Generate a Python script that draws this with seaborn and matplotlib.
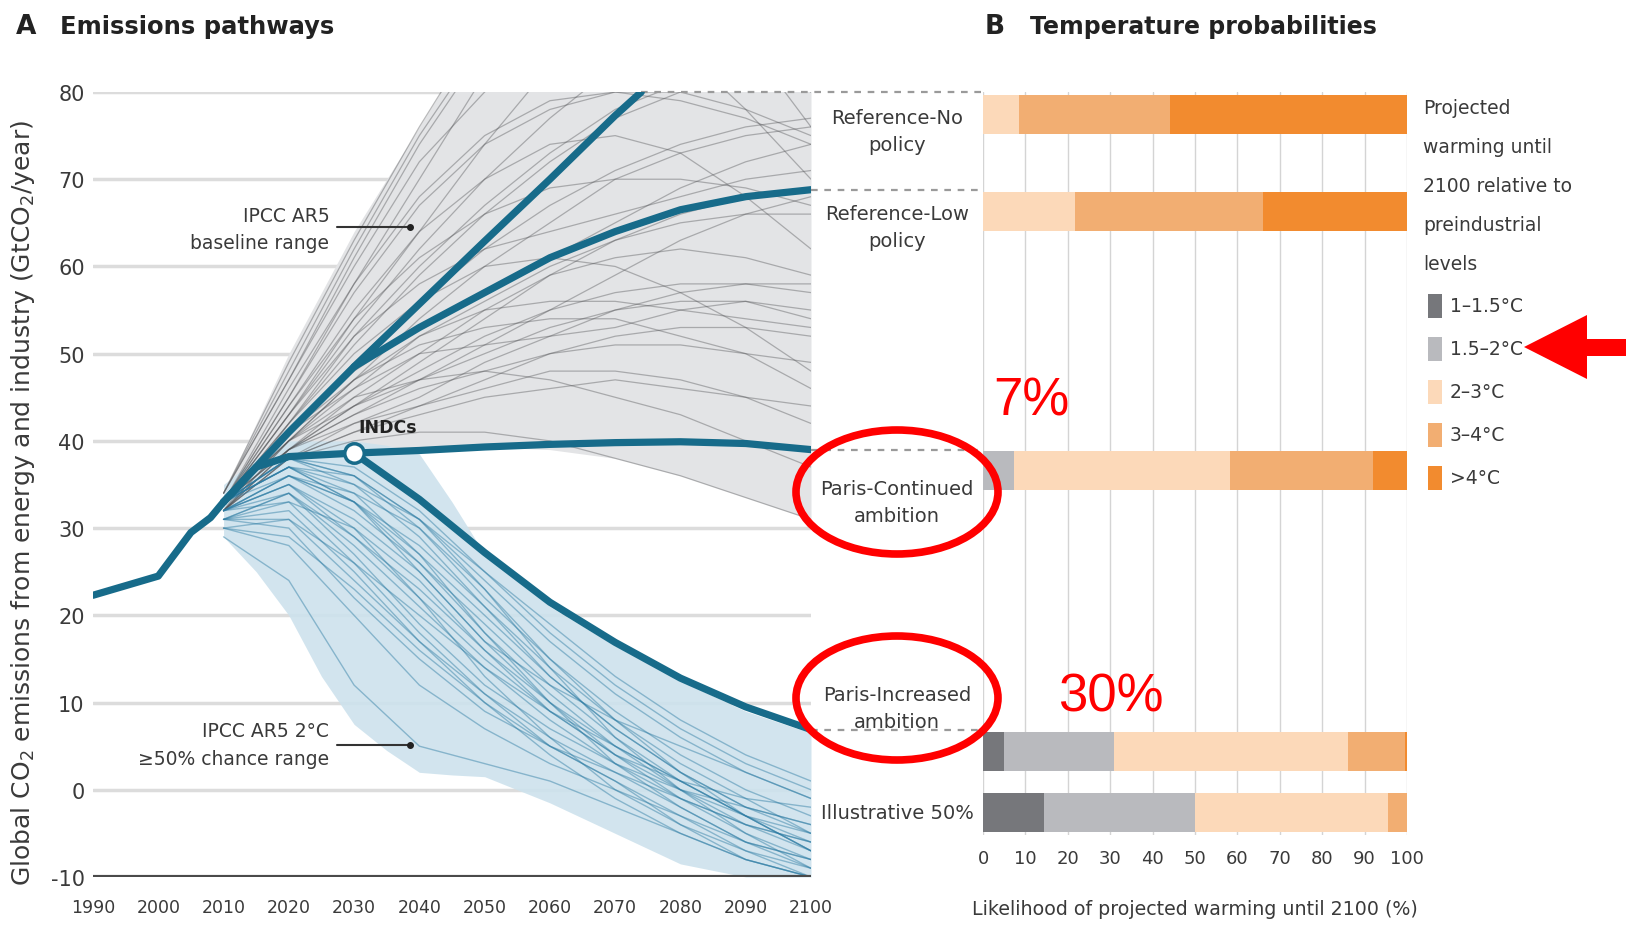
import matplotlib
matplotlib.use("Agg")
import matplotlib.pyplot as plt
from matplotlib.patches import Ellipse, Rectangle, Polygon
import numpy as np
import pandas as pd
import seaborn as sns

# ---- data ----
decades = [2010, 2020, 2030, 2040, 2050, 2060, 2070, 2080, 2090, 2100]

hist_years = [1990, 2000, 2003, 2005, 2008, 2010]
hist_vals = [22.3, 24.5, 27.5, 29.5, 31.2, 33.0]

ref_no_years = [2010, 2020, 2030, 2040, 2050, 2060, 2070, 2074]
ref_no_vals = [33, 41, 48.5, 55.7, 62.9, 70.0, 77.3, 80]

ref_low_years = [2030, 2040, 2050, 2060, 2070, 2080, 2090, 2100]
ref_low_vals = [48.5, 53, 57, 61, 64, 66.5, 68, 68.8]

paris_cont_years = [2010, 2015, 2020, 2030, 2040, 2050, 2060, 2070, 2080, 2090, 2100]
paris_cont_vals = [33, 37, 38.2, 38.6, 38.9, 39.3, 39.6, 39.8, 39.9, 39.7, 39.0]

paris_inc_years = [2030, 2040, 2050, 2060, 2070, 2080, 2090, 2100]
paris_inc_vals = [38.6, 33.3, 27.2, 21.5, 16.9, 12.8, 9.5, 6.9]

baseline_low = [33, 38, 38.5, 39, 39.3, 39, 38, 36, 33.5, 31]
baseline_high = [34, 50, 64, 76, 88, 95, 95, 95, 95, 95]

twodeg_years = [2010, 2015, 2020, 2025, 2030, 2035, 2040, 2045, 2050, 2060, 2070, 2080, 2090, 2100]
twodeg_low = [29, 25, 20, 13, 7.5, 4.5, 2, 1.7, 1.5, -1.5, -5, -8.5, -10, -10]
twodeg_high = [35, 38, 40, 40, 40, 39.5, 38.5, 33, 27, 21, 16.5, 12.5, 9, 6.5]

baseline_runs = [
    [33, 45, 58, 70, 82, 92, 100, 105, 110, 115],
    [33, 43, 54, 64, 74, 83, 90, 95, 98, 100],
    [32, 42, 52, 60, 67, 73, 78, 81, 82, 83],
    [33, 41, 49, 56, 62, 67, 71, 74, 76, 77],
    [32, 40, 46, 52, 56, 60, 63, 65, 66, 66],
    [33, 39, 44, 48, 52, 55, 57, 58, 58, 57],
    [32, 39, 43, 46, 48, 50, 51, 51, 50, 49],
    [33, 38, 41, 43, 45, 46, 47, 46, 45, 44],
    [32, 38, 40, 41, 41, 40, 38, 36, 33.5, 31],
    [33, 40, 45, 47, 48, 47, 45, 43, 40, 37],
    [33, 42, 50, 56, 60, 61, 60, 57, 53, 48],
    [33, 44, 55, 64, 70, 74, 75, 73, 68, 62],
    [34, 47, 60, 72, 80, 86, 88, 85, 78, 70],
    [34, 49, 63, 76, 88, 98, 104, 96, 86, 76],
    [33, 41, 48, 53, 57, 61, 65, 69, 72, 74],
    [32, 39, 45, 50, 55, 59, 61, 62, 61, 59],
    [33, 40, 47, 52, 55, 56, 56, 55, 54, 53],
    [33, 43, 52, 58, 62, 64, 66, 68, 70, 71],
    [33, 39, 42, 45, 49, 52, 55, 57, 58, 58],
    [32, 38, 42, 44, 46, 48, 48, 47, 45, 42],
    [33, 46, 58, 68, 75, 79, 80, 79, 77, 74],
    [33, 41, 46, 50, 51, 52, 53, 55, 56, 55],
    [34, 48, 62, 75, 86, 93, 96, 92, 84, 80],
    [33, 40, 44, 47, 50, 53, 55, 56, 56, 54],
    [33, 42, 51, 59, 66, 72, 77, 80, 82, 82],
    [32, 40, 47, 54, 60, 65, 70, 73, 75, 76],
    [33, 44, 54, 61, 66, 69, 70, 70, 69, 67],
    [33, 39, 43, 47, 51, 55, 59, 63, 66, 68],
    [32, 38, 41, 44, 47, 50, 52, 53, 53, 52],
    [33, 45, 57, 67, 74, 78, 80, 80, 78, 75],
    [34, 47, 61, 74, 85, 94, 100, 98, 90, 82],
    [33, 41, 47, 51, 53, 54, 54, 52, 50, 46],
    [32, 39, 44, 49, 54, 59, 63, 66, 68, 69],
    [33, 43, 53, 62, 70, 77, 83, 86, 85, 80],
]

twodeg_runs = [
    [33, 38, 36, 30, 22, 15, 9, 4, 0, -3],
    [32, 36, 32, 26, 19, 12, 6, 1, -3, -6],
    [33, 37, 34, 27, 18, 10, 3, -2, -6, -8],
    [31, 34, 28, 21, 14, 8, 3, -1, -4, -6],
    [32, 35, 30, 22, 13, 6, 0, -4, -7, -9],
    [30, 31, 24, 17, 11, 6, 2, -2, -6, -9],
    [33, 37, 35, 31, 24, 17, 11, 6, 2, -1],
    [32, 34, 27, 19, 12, 7, 3, 0, -2, -4],
    [31, 32, 25, 17, 10, 4, -1, -5, -8, -10],
    [33, 36, 33, 28, 21, 14, 8, 3, -1, -5],
    [30, 28, 20, 12, 7, 3, 0, -3, -6, -8],
    [33, 38, 37, 32, 25, 18, 12, 7, 3, 0],
    [32, 35, 29, 23, 16, 10, 5, 1, -3, -7],
    [31, 33, 30, 24, 16, 9, 4, 1, -1, -2],
    [29, 24, 12, 5, 3, 1, -2, -5, -8, -10],
    [33, 37, 33, 25, 17, 12, 8, 5, 2, -1],
    [32, 36, 34, 30, 23, 14, 6, 0, -4, -7],
    [31, 30, 22, 15, 9, 5, 2, -1, -4, -6],
    [33, 38, 35, 29, 21, 13, 7, 2, -2, -4],
    [32, 33, 26, 18, 11, 5, 1, -3, -7, -10],
    [33, 37, 33, 27, 20, 13, 7, 2, -2, -5],
    [32, 35, 31, 25, 17, 10, 4, -1, -5, -8],
    [31, 31, 26, 20, 14, 9, 5, 1, -3, -7],
    [33, 37, 36, 31, 23, 15, 8, 2, -3, -7],
    [30, 29, 23, 16, 10, 5, 1, -4, -8, -10],
    [32, 36, 33, 26, 18, 11, 5, 0, -5, -9],
    [33, 38, 36, 31, 25, 19, 13, 8, 4, 1],
    [31, 34, 29, 22, 15, 9, 4, 0, -3, -5],
]

scenarios = ["Reference-No\npolicy", "Reference-Low\npolicy",
             "Paris-Continued\nambition", "Paris-Increased\nambition",
             "Illustrative 50%"]
bar_pos = [77.4, 66.3, 36.6, 4.4, -2.6]
label_y = [75.5, 64.5, 33.0, 9.4, -2.6]

warming_classes = ["1–1.5°C", "1.5–2°C", "2–3°C", "3–4°C", ">4°C"]
p_1_15 = [0, 0, 0, 4.9, 14.4]
p_15_2 = [0, 0, 7.3, 26.1, 35.6]
p_2_3 = [8.4, 21.8, 50.9, 55.0, 45.5]
p_3_4 = [35.6, 44.2, 33.8, 13.6, 4.5]
p_4 = [56.0, 34.0, 8.0, 0.4, 0.0]

connector_start = [2074, 2100, 2100, 2100]
connector_y = [80, 68.8, 39.0, 6.9]

# ---- style ----
sns.set_theme(style="white")
plt.rcParams["font.family"] = ["DejaVu Sans"]
plt.rcParams["axes.unicode_minus"] = False
TXT = "#3a3a3a"
BLUE = "#176b8a"
class_colors = ["#76777b", "#b9babe", "#fcd9b9", "#f2ae72", "#f28b2f"]

W, H = 1626, 929
fig = plt.figure(figsize=(W / 100, H / 100), dpi=100)


def fx(px):
    return px / W


def fy(py):
    return 1 - py / H


ax1 = fig.add_axes([93 / W, (H - 878) / H, 718 / W, 785 / H])
ax2 = fig.add_axes([983 / W, (H - 836) / H, 424 / W, 743 / H])

# ---- panel A ----
ax1.set_xlim(1990, 2100)
ax1.set_ylim(-10, 80)
ax1.set_axisbelow(True)
ax1.grid(axis="y", color="#dcdcdc", lw=2.5)
ax1.grid(axis="x", visible=False)
for s in ax1.spines.values():
    s.set_visible(False)
ax1.axhline(-10, color="#4a4a4a", lw=3, zorder=8)

ax1.fill_between(decades, baseline_low, baseline_high, color="#e3e4e6", lw=0, zorder=1)
ax1.fill_between(twodeg_years, twodeg_low, twodeg_high, color="#cde2ed", alpha=0.9, lw=0, zorder=1.5)

base_df = pd.DataFrame([(r, y, v) for r, run in enumerate(baseline_runs) for y, v in zip(decades, run)],
                       columns=["run", "year", "value"])
two_df = pd.DataFrame([(r, y, v) for r, run in enumerate(twodeg_runs) for y, v in zip(decades, run)],
                      columns=["run", "year", "value"])
sns.lineplot(data=base_df, x="year", y="value", units="run", estimator=None,
             color="#505154", alpha=0.4, lw=0.9, ax=ax1, legend=False, zorder=2)
sns.lineplot(data=two_df, x="year", y="value", units="run", estimator=None,
             color="#2a7aa2", alpha=0.45, lw=1.0, ax=ax1, legend=False, zorder=2.5)

for xs, ys in [(hist_years, hist_vals), (ref_no_years, ref_no_vals), (ref_low_years, ref_low_vals),
               (paris_cont_years, paris_cont_vals), (paris_inc_years, paris_inc_vals)]:
    sns.lineplot(x=xs, y=ys, color=BLUE, lw=5.2, ax=ax1, zorder=5, sort=False)
ax1.plot([2030], [38.6], "o", ms=14, mfc="white", mec=BLUE, mew=2.5, zorder=6)
ax1.text(2030.6, 40.6, "INDCs", fontsize=12.5, fontweight="bold", color="#222", va="bottom")

ax1.text(2026.2, 64.3, "IPCC AR5\nbaseline range", ha="right", va="center", fontsize=13.5,
         linespacing=1.55, color=TXT)
ax1.plot([2027.4, 2038.5], [64.5, 64.5], color="#333", lw=1.5, zorder=7)
ax1.plot([2038.5], [64.5], "o", color="#222", ms=4, zorder=7)
ax1.text(2026.2, 5.2, "IPCC AR5 2°C\n≥50% chance range", ha="right", va="center", fontsize=13.5,
         linespacing=1.55, color=TXT)
ax1.plot([2027.4, 2038.5], [5.1, 5.1], color="#333", lw=1.5, zorder=7)
ax1.plot([2038.5], [5.1], "o", color="#222", ms=4, zorder=7)

ax1.set_xticks(range(1990, 2101, 10))
ax1.set_yticks(range(-10, 81, 10))
ax1.tick_params(axis="x", labelsize=12.5, pad=15, length=0, colors=TXT)
ax1.tick_params(axis="y", labelsize=15, pad=6, length=0, colors=TXT)
ax1.set_xlabel("")
ax1.set_ylabel("")

# ---- panel B: stacked bars ----
cum = np.cumsum([p_1_15, p_15_2, p_2_3, p_3_4, p_4], axis=0)
for k in reversed(range(len(warming_classes))):
    sns.barplot(x=cum[k], y=bar_pos, orient="h", native_scale=True, color=class_colors[k],
                saturation=1, width=0.639, linewidth=0, errorbar=None, ax=ax2, zorder=3)
ax2.set_xlim(0, 100)
ax2.set_ylim(-5.2, 80)
ax2.set_axisbelow(True)
ax2.grid(axis="x", color="#d4d4d4", lw=1)
ax2.grid(axis="y", visible=False)
for s in ax2.spines.values():
    s.set_visible(False)
ax2.set_xticks(range(0, 101, 10))
ax2.set_yticks([])
ax2.tick_params(axis="x", labelsize=13, pad=10, length=0, colors=TXT)
ax2.set_ylabel("")
ax2.set_xlabel("")

# connectors and scenario labels between panels
x_end = ax1.transData.inverted().transform(ax2.transData.transform((0, 0)))[0]
x_mid = (2100 + x_end) / 2
for xs, yv in zip(connector_start, connector_y):
    ax1.plot([xs, x_end], [yv, yv], color="#9a9a9a", lw=1.6, ls=(0, (3, 3)), clip_on=False, zorder=4)
for name, yv in zip(scenarios, label_y):
    ax1.text(x_mid, yv, name, ha="center", va="center", fontsize=14, linespacing=1.55,
             color=TXT, clip_on=False)

# ---- titles and axis labels ----
fig.text(fx(16), fy(27), "A", fontsize=19, fontweight="bold", color="#222", va="center")
fig.text(fx(60), fy(27), "Emissions pathways", fontsize=17.5, fontweight="bold", color="#222", va="center")
fig.text(fx(985), fy(27), "B", fontsize=19, fontweight="bold", color="#222", va="center")
fig.text(fx(1030), fy(27), "Temperature probabilities", fontsize=17, fontweight="bold", color="#222",
         va="center")
fig.text(fx(23), fy(503), "Global CO$_2$ emissions from energy and industry (GtCO$_2$/year)",
         rotation=90, ha="center", va="center", fontsize=18, color=TXT)
fig.text(fx(1195), fy(910), "Likelihood of projected warming until 2100 (%)", ha="center", va="center",
         fontsize=13.7, color=TXT)

# ---- legend ----
for i, line in enumerate(["Projected", "warming until", "2100 relative to", "preindustrial", "levels"]):
    fig.text(fx(1423), fy(109 + i * 38.8), line, ha="left", va="center", fontsize=13.5, color=TXT)
for i, (name, c) in enumerate(zip(warming_classes, class_colors)):
    yc = 307 + i * 43
    fig.patches.append(Rectangle((fx(1428), fy(yc + 12)), 14 / W, 24 / H, transform=fig.transFigure,
                                 color=c, lw=0))
    fig.text(fx(1450), fy(yc), name, ha="left", va="center", fontsize=13.5, color=TXT)

# ---- red annotations ----
for cx, cy in [(897, 493), (897, 699)]:
    fig.patches.append(Ellipse((fx(cx), fy(cy)), 202 / W, 124 / H, transform=fig.transFigure,
                               fill=False, ec="#ff0000", lw=5.5, zorder=10))
fig.text(fx(1031), fy(402), "7%", color="#ff0000", fontsize=38, family="Liberation Sans",
         ha="center", va="center")
fig.text(fx(1111), fy(698), "30%", color="#ff0000", fontsize=38, family="Liberation Sans",
         ha="center", va="center")
arrow_px = [(1524, 348), (1587, 316), (1587, 340), (1626, 340), (1626, 357), (1587, 357), (1587, 380)]
fig.patches.append(Polygon([(fx(x), fy(y)) for x, y in arrow_px], closed=True, transform=fig.transFigure,
                           color="#ff0000", lw=0, zorder=10))

fig.savefig("out.png", dpi=100)
